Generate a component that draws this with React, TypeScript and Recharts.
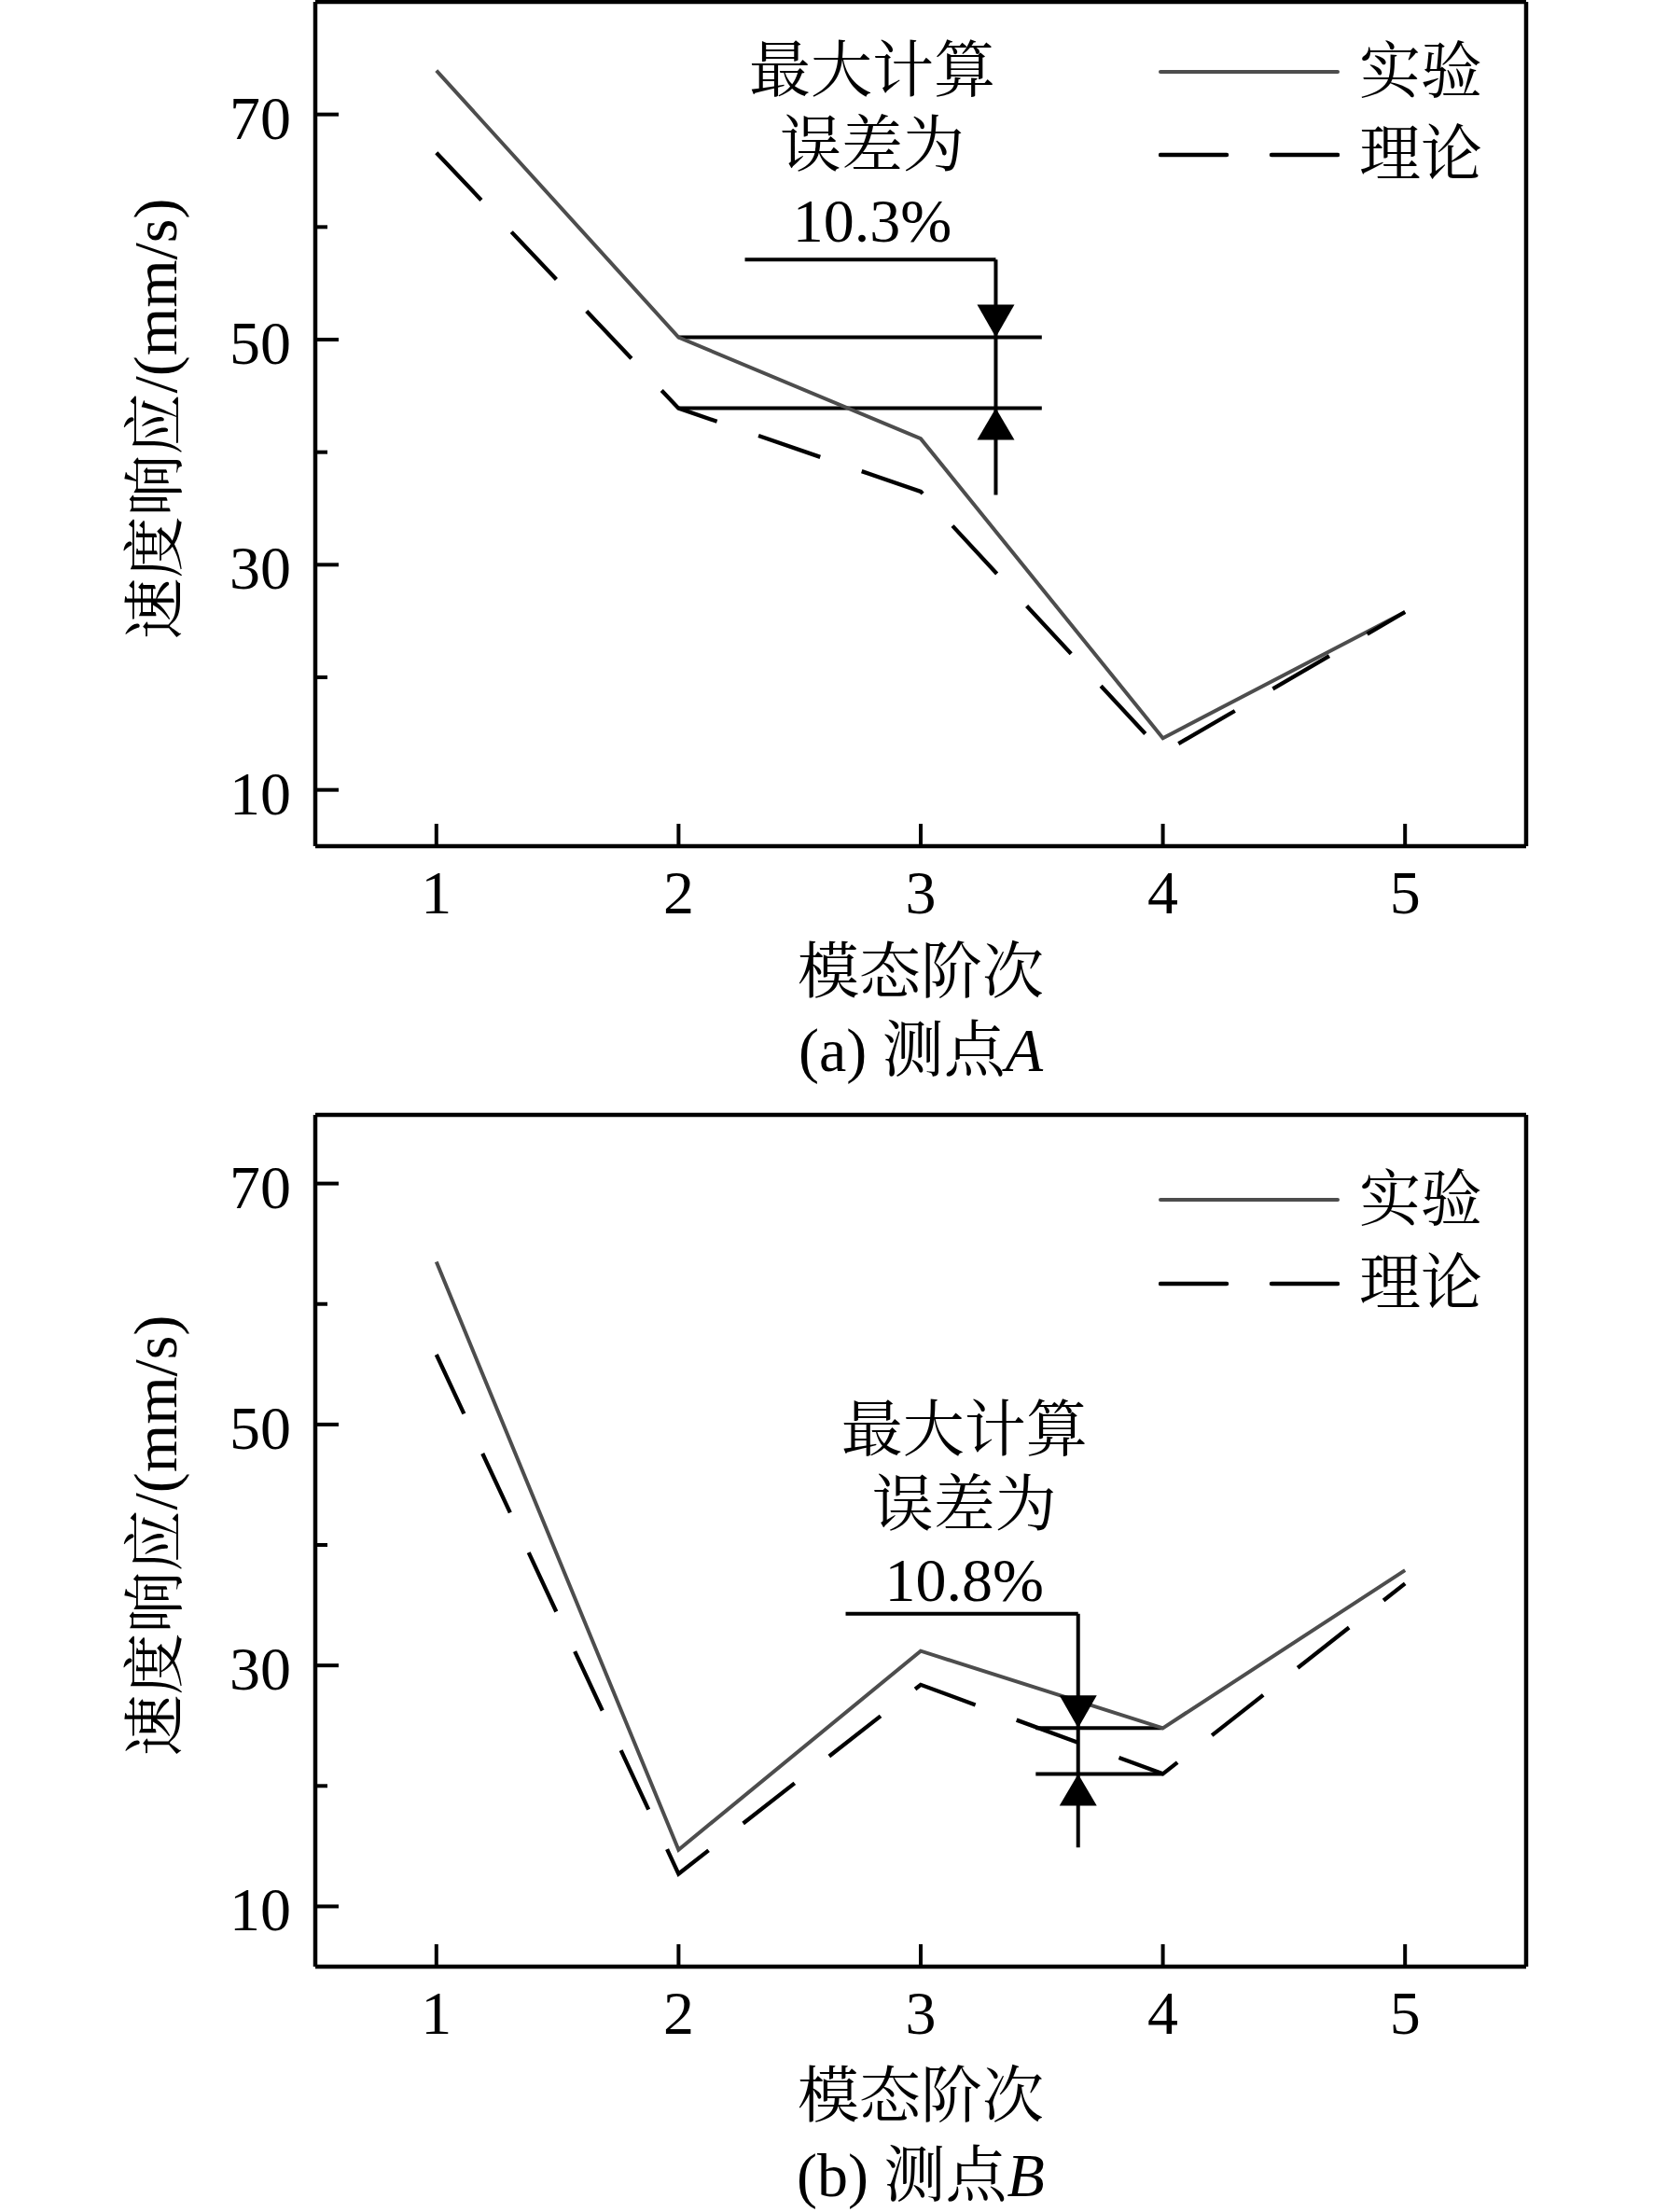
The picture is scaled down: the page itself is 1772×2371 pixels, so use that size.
import React from 'react';
import { LineChart, Line, XAxis, YAxis, ReferenceLine, ReferenceDot, Legend } from 'recharts';

// ---------- data ----------
const modes = [1, 2, 3, 4, 5];
const expA = [73.9, 50.2, 41.2, 14.6, 25.8];
const theoryA = [66.6, 43.9, 36.5, 13.3, 25.8];
const expB = [63.5, 14.7, 31.2, 24.8, 37.9];
const theoryB = [55.8, 12.7, 28.4, 21.0, 36.8];
const xTicks = [1, 2, 3, 4, 5];
const yTicks = [10, 20, 30, 40, 50, 60, 70];
const yTickLabels = [10, 30, 50, 70];
const seriesNames = ['实验', '理论'];
const noteLines = ['最大计算', '误差为'];
const errA = '10.3%';
const errB = '10.8%';
const xDomain = [0.5, 5.5];
const yDomainA = [5, 80];
const yDomainB = [5, 75.7];
const xLabel = '模态阶次';
const yLabel = '速度响应/(mm/s)';
const captionA = ['(a) 测点', 'A'];
const captionB = ['(b) 测点', 'B'];
// annotation anchors in data units
const annA = { idx: 1, from: 2, to: 3.5, arrowX: 3.31, leaderFrom: 2.274, leaderY: 57.1, stemBottom: 36.2, textX: 2.8, textY: 73.9 };
const annB = { idx: 3, from: 3.475, to: 4, arrowX: 3.65, leaderFrom: 2.69, leaderY: 34.3, stemBottom: 14.9, textX: 3.18, textY: 49.6 };

// ---------- style ----------
const FONT = "'Liberation Serif', 'Times New Roman', 'Noto Serif CJK SC', 'Noto Sans CJK SC', serif";
const FS = 66;
const EXP_COLOR = '#4d4d4d';
const DASH = '70 47';

const XTick = (props: any) => {
  const { x, y, payload } = props;
  return (
    <g>
      <line x1={x} y1={y} x2={x} y2={y - 24} stroke="#000" strokeWidth={4} />
      <text x={x} y={y + 72} textAnchor="middle" fontSize={FS} fontFamily={FONT} fill="#000">
        {payload.value}
      </text>
    </g>
  );
};

const YTick = (props: any) => {
  const { x, y, payload } = props;
  const major = yTickLabels.includes(payload.value);
  return (
    <g>
      <line x1={x} y1={y} x2={x + (major ? 25 : 13)} y2={y} stroke="#000" strokeWidth={4} />
      {major && (
        <text x={x - 26} y={y + 26} textAnchor="end" fontSize={FS} fontFamily={FONT} fill="#000">
          {payload.value}
        </text>
      )}
    </g>
  );
};

const DownArrow = (p: any) => (
  <path d={`M${p.cx - 20},${p.cy - 35} L${p.cx + 20},${p.cy - 35} L${p.cx},${p.cy} Z`} fill="#000" />
);
const UpArrow = (p: any) => (
  <path d={`M${p.cx - 20},${p.cy + 34} L${p.cx + 20},${p.cy + 34} L${p.cx},${p.cy} Z`} fill="#000" />
);

const makeNote = (err: string) => (p: any) => (
  <g fontFamily={FONT} fontSize={FS} fill="#000" textAnchor="middle">
    <text x={p.cx} y={p.cy} dominantBaseline="central">{noteLines[0]}</text>
    <text x={p.cx} y={p.cy + 80} dominantBaseline="central">{noteLines[1]}</text>
    <text x={p.cx} y={p.cy + 161} dominantBaseline="central">{err}</text>
  </g>
);

const LegendBox = ({ gap }: { gap: number }) => (
  <div style={{ position: 'relative', width: 400, height: gap + 80 }}>
    {seriesNames.map((name, i) => (
      <div
        key={name}
        style={{ position: 'absolute', left: 0, top: i * gap, height: 70, display: 'flex', alignItems: 'center' }}
      >
        <svg width={194} height={10} style={{ display: 'block' }}>
          <line
            x1={2}
            y1={5}
            x2={192}
            y2={5}
            stroke={i === 0 ? EXP_COLOR : '#000'}
            strokeWidth={i === 0 ? 4 : 4.5}
            strokeDasharray={i === 0 ? undefined : '71 48'}
            strokeLinecap="round"
          />
        </svg>
        <span style={{ marginLeft: 21, fontSize: FS, fontFamily: FONT, lineHeight: 1, color: '#000' }}>{name}</span>
      </div>
    ))}
  </div>
);

type PanelProps = {
  exp: number[];
  theory: number[];
  yDomain: number[];
  ann: typeof annA;
  err: string;
  height: number;
  margin: { top: number; right: number; bottom: number; left: number };
  legendTop: number;
  legendGap: number;
};

const Panel = ({ exp, theory, yDomain, ann, err, height, margin, legendTop, legendGap }: PanelProps) => {
  const data = modes.map((m, i) => ({ mode: m, exp: exp[i], theory: theory[i] }));
  const hi = exp[ann.idx];
  const lo = theory[ann.idx];
  const axisLine = { stroke: '#000', strokeWidth: 4.5 };
  return (
    <LineChart width={1772} height={height} data={data} margin={margin}>
      <XAxis
        dataKey="mode"
        type="number"
        domain={xDomain}
        ticks={xTicks}
        interval={0}
        height={1}
        tickSize={0}
        tickMargin={0}
        tickLine={false}
        axisLine={axisLine}
        tick={XTick}
        allowDataOverflow
      />
      <XAxis xAxisId="top" dataKey="mode" type="number" domain={xDomain} orientation="top" height={1} tick={false} tickLine={false} axisLine={axisLine} allowDataOverflow />
      <YAxis
        type="number"
        domain={yDomain}
        ticks={yTicks}
        interval={0}
        width={1}
        tickSize={0}
        tickMargin={0}
        tickLine={false}
        axisLine={axisLine}
        tick={YTick}
        allowDataOverflow
      />
      <YAxis yAxisId="right" type="number" domain={yDomain} orientation="right" width={1} tick={false} tickLine={false} axisLine={axisLine} allowDataOverflow />
      <Legend
        layout="horizontal"
        verticalAlign="middle"
        align="center"
        wrapperStyle={{ position: 'absolute', left: 1242, top: legendTop, width: 420, height: legendGap + 80 }}
        content={() => <LegendBox gap={legendGap} />}
      />
      <ReferenceLine segment={[{ x: ann.from, y: hi }, { x: ann.to, y: hi }]} stroke="#000" strokeWidth={4} ifOverflow="visible" />
      <ReferenceLine segment={[{ x: ann.from, y: lo }, { x: ann.to, y: lo }]} stroke="#000" strokeWidth={4} ifOverflow="visible" />
      <ReferenceLine segment={[{ x: ann.arrowX, y: ann.leaderY }, { x: ann.arrowX, y: ann.stemBottom }]} stroke="#000" strokeWidth={4} ifOverflow="visible" />
      <ReferenceLine segment={[{ x: ann.leaderFrom, y: ann.leaderY }, { x: ann.arrowX, y: ann.leaderY }]} stroke="#000" strokeWidth={4} ifOverflow="visible" />
      <ReferenceDot x={ann.arrowX} y={hi} shape={DownArrow} ifOverflow="visible" />
      <ReferenceDot x={ann.arrowX} y={lo} shape={UpArrow} ifOverflow="visible" />
      <ReferenceDot x={ann.textX} y={ann.textY} shape={makeNote(err)} ifOverflow="visible" />
      <Line type="linear" dataKey="exp" name={seriesNames[0]} stroke={EXP_COLOR} strokeWidth={4} dot={false} activeDot={false} isAnimationActive={false} />
      <Line type="linear" dataKey="theory" name={seriesNames[1]} stroke="#000" strokeWidth={4.3} strokeDasharray={DASH} dot={false} activeDot={false} isAnimationActive={false} />
    </LineChart>
  );
};

const textStyle: React.CSSProperties = {
  position: 'absolute',
  fontFamily: FONT,
  fontSize: FS,
  lineHeight: 1,
  whiteSpace: 'nowrap',
  color: '#000',
};

const Overlay = ({ yCenter, xLabelY, captionY, caption }: { yCenter: number; xLabelY: number; captionY: number; caption: string[] }) => (
  <>
    <div style={{ ...textStyle, left: 167, top: yCenter, transform: 'translate(-50%, -50%) rotate(-90deg)' }}>{yLabel}</div>
    <div style={{ ...textStyle, left: 987, top: xLabelY, transform: 'translate(-50%, -50%)' }}>{xLabel}</div>
    <div style={{ ...textStyle, left: 987, top: captionY, transform: 'translate(-50%, -50%)' }}>
      {caption[0]}
      <i>{caption[1]}</i>
    </div>
  </>
);

export default function App() {
  return (
    <div style={{ position: 'absolute', left: 0, top: 0, width: 1772, height: 2371, background: '#fff', overflow: 'hidden' }}>
      <div style={{ position: 'absolute', left: 0, top: 0 }}>
        <Panel
          exp={expA}
          theory={theoryA}
          yDomain={yDomainA}
          ann={annA}
          err={errA}
          height={1190}
          margin={{ top: 1, right: 135, bottom: 282, left: 337 }}
          legendTop={42}
          legendGap={89}
        />
      </div>
      <div style={{ position: 'absolute', left: 0, top: 1190 }}>
        <Panel
          exp={expB}
          theory={theoryB}
          yDomain={yDomainB}
          ann={annB}
          err={errB}
          height={1181}
          margin={{ top: 4, right: 135, bottom: 262, left: 337 }}
          legendTop={61}
          legendGap={90}
        />
      </div>
      <Overlay yCenter={449} xLabelY={1042} captionY={1126} caption={captionA} />
      <Overlay yCenter={1646} xLabelY={2247} captionY={2332} caption={captionB} />
    </div>
  );
}
